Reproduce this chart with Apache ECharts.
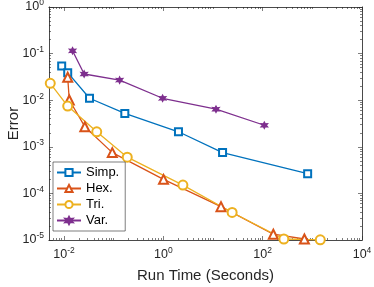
<!DOCTYPE html>
<html><head><meta charset="utf-8">
<script src="https://cdn.jsdelivr.net/npm/echarts@6/dist/echarts.min.js"></script>
<style>html,body{margin:0;padding:0;background:#fff}#c{width:374px;height:287px}</style>
</head><body><div id="c"></div>
<script>
const seriesNames = ['Simp.', 'Hex.', 'Tri.', 'Var.'];
const simpX = [0.009, 0.0119, 0.0327, 0.168, 2.02, 15.6, 805];
const simpY = [0.054, 0.039, 0.011, 0.0052, 0.0021, 0.00075, 0.000265];
const hexX = [0.0119, 0.0128, 0.0263, 0.094, 1.01, 14.5, 164, 692];
const hexY = [0.031, 0.0101, 0.0027, 0.00075, 0.0002, 5.2e-5, 1.33e-5, 1.05e-5];
const triX = [0.0053, 0.0119, 0.0457, 0.188, 2.48, 24.3, 267, 1445];
const triY = [0.023, 0.0075, 0.0021, 0.0006, 0.000151, 3.9e-5, 1.05e-5, 1.01e-5];
const varX = [0.0149, 0.0255, 0.132, 0.968, 11.5, 108];
const varY = [0.115, 0.0365, 0.027, 0.011, 0.0064, 0.0029];
const xTickLabels = [0.01, 1, 100, 10000];
const yTickLabels = [1e-5, 1e-4, 1e-3, 1e-2, 1e-1, 1];
const xMin = 0.005, xMax = 10000, yMin = 1e-5, yMax = 1;

function minors(lo, hi, majors) {
  const out = [];
  for (let d = -6; d <= 5; d++) for (let k = 1; k <= 9; k++) {
    const v = +(k * Math.pow(10, d)).toPrecision(6);
    if (v > lo * 1.0001 && v < hi * 0.9999 && !majors.some(m => Math.abs(m - v) / m < 1e-6)) out.push(v);
  }
  return out;
}
const xMinor = minors(xMin, xMax, xTickLabels);
const yMinor = minors(yMin, yMax, yTickLabels);

function pw(v) { const e = Math.round(Math.log10(v)); return '{b|10}{s|' + e + '}'; }
const rich = { b: { fontSize: 12.5, fontFamily: 'Liberation Sans', color: '#262626' },
               s: { fontSize: 8.5, fontFamily: 'Liberation Sans', color: '#262626', verticalAlign: 'bottom', padding: [0, 0, 8, 0] } };
const axCol = '#262626';
const titleStyle = { fontSize: 15, fontFamily: 'Liberation Sans', color: '#262626' };

function star() {
  let p = '';
  for (let i = 0; i < 12; i++) {
    const r = i % 2 ? 0.5 : 1, a = Math.PI / 2 + i * Math.PI / 6;
    p += (i ? 'L' : 'M') + (r * Math.cos(a)).toFixed(3) + ' ' + (-r * Math.sin(a)).toFixed(3);
  }
  return 'path://' + p + 'Z';
}

function xAx(pos, major, showLabel) {
  return { type: 'log', logBase: 10, min: xMin, max: xMax, position: pos,
    gridIndex: 0,
    name: showLabel ? 'Run Time (Seconds)' : '', nameLocation: 'middle', nameGap: 28, nameMoveOverlap: false,
    nameTextStyle: titleStyle,
    axisLine: { show: true, onZero: false, lineStyle: { color: axCol, width: 0.6 } },
    axisTick: { show: true, inside: true, length: major ? 4 : 2, customValues: major ? xTickLabels : xMinor, lineStyle: { color: axCol, width: 0.6 } },
    axisLabel: { show: showLabel, customValues: xTickLabels, margin: 6, formatter: pw, rich: rich },
    splitLine: { show: false } };
}
function yAx(pos, major, showLabel) {
  return { type: 'log', logBase: 10, min: yMin, max: yMax, position: pos,
    gridIndex: 0,
    name: showLabel ? 'Error' : '', nameLocation: 'middle', nameGap: 28, nameMoveOverlap: false,
    nameTextStyle: titleStyle,
    axisLine: { show: true, onZero: false, lineStyle: { color: axCol, width: 0.6 } },
    axisTick: { show: true, inside: true, length: major ? 4 : 2, customValues: major ? yTickLabels : yMinor, lineStyle: { color: axCol, width: 0.6 } },
    axisLabel: { show: showLabel, customValues: yTickLabels, margin: 5, formatter: pw, rich: rich },
    splitLine: { show: false } };
}

function mk(name, xs, ys, color, symbol, size) {
  return { name: name, type: 'line', xAxisIndex: 0, yAxisIndex: 0,
    data: xs.map((x, i) => [x, ys[i]]),
    symbol: symbol, symbolSize: size, showSymbol: true,
    lineStyle: { color: color, width: 1.3 },
    itemStyle: { color: color, borderColor: color, borderWidth: 1.2 },
    emphasis: { disabled: true }, animation: false };
}

const chart = echarts.init(document.getElementById('c'), null, { renderer: 'canvas' });
chart.setOption({
  animation: false,
  backgroundColor: '#fff',
  grid: { left: 49, right: 12, top: 7, bottom: 47, containLabel: false, outerBoundsMode: 'none' },
  xAxis: [xAx('bottom', true, true), xAx('bottom', false, false), xAx('top', true, false), xAx('top', false, false)],
  yAxis: [yAx('left', true, true), yAx('left', false, false), yAx('right', true, false), yAx('right', false, false)],
  legend: { orient: 'vertical', left: 53, top: 162, itemGap: 3, itemWidth: 24, itemHeight: 9,
    padding: [4, 6, 4, 3], borderColor: '#262626', borderWidth: 0.6, backgroundColor: '#fff',
    textStyle: { fontSize: 13, fontFamily: 'Liberation Sans', color: '#000' },
    data: seriesNames },
  series: [
    mk(seriesNames[0], simpX, simpY, '#0072BD', 'emptyRect', 7),
    mk(seriesNames[1], hexX, hexY, '#D95319', 'emptyTriangle', 9),
    mk(seriesNames[2], triX, triY, '#EDB120', 'emptyCircle', 9),
    mk(seriesNames[3], varX, varY, '#7E2F8E', star(), 6.5)
  ]
});
</script></body></html>
